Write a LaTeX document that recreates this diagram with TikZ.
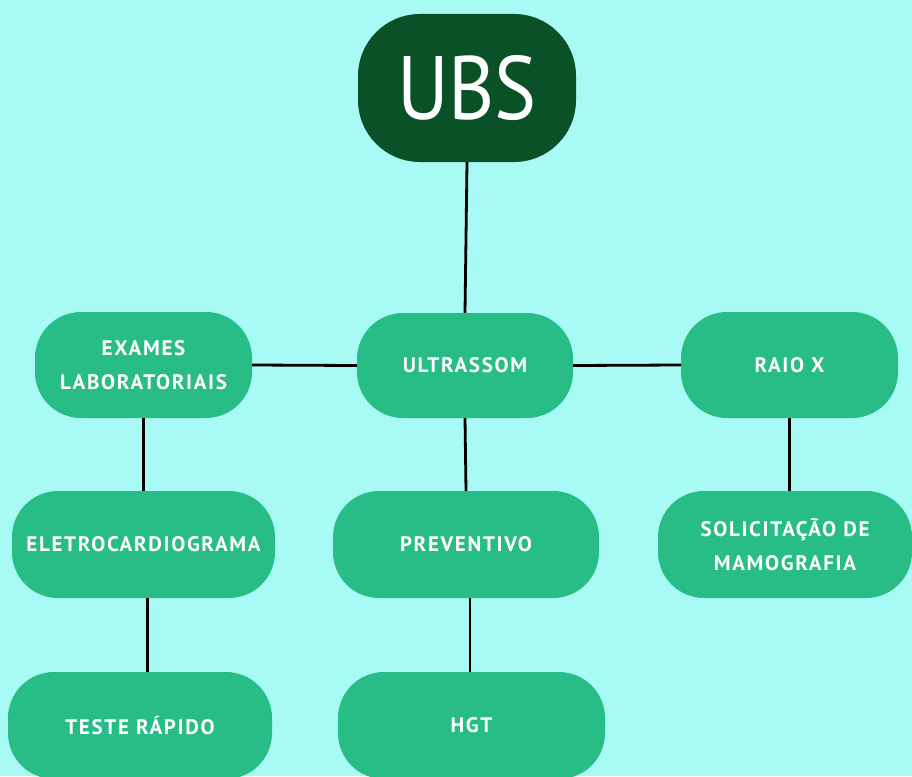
\documentclass[tikz,border=0pt]{standalone}
\usepackage{fontspec}
\setmainfont{PT Sans}
\definecolor{bgc}{HTML}{A8FBF4}
\definecolor{darkg}{HTML}{0B5128}
\definecolor{midg}{HTML}{28BD87}
\tikzset{
  box/.style={fill=midg, rounded corners=46pt, inner sep=0pt, align=center,
    text=white, font=\bfseries\fontsize{21}{34}\selectfont\addfontfeature{LetterSpace=8}},
  topbox/.style={fill=darkg, rounded corners=62pt, inner sep=0pt,
    minimum width=218pt, minimum height=148pt, text=white,
    font=\fontsize{90}{90}\selectfont},
  link/.style={draw=black, line width=2.8pt}
}
\begin{document}
\begin{tikzpicture}[x=1pt,y=-1pt]
\useasboundingbox (0,0) rectangle (912,776);
\clip (0,0) rectangle (912,776);
\fill[bgc] (0,0) rectangle (912,776);
\node[topbox] (ubs) at (467,88) {\scalebox{0.88}[1]{UBS}};
\node[box, minimum width=217pt, minimum height=106pt] (exames) at (143.5,365) {EXAMES\\LABORATORIAIS};
\node[box, minimum width=216pt, minimum height=105pt] (ultra) at (465,365.5) {ULTRASSOM};
\node[box, minimum width=217pt, minimum height=106pt] (raio) at (789.5,365) {RAIO X};
\node[box, minimum width=263pt, minimum height=107pt] (eletro) at (143.5,544.5) {ELETROCARDIOGRAMA};
\node[box, minimum width=266pt, minimum height=107pt] (prev) at (466,544.5) {PREVENTIVO};
\node[box, minimum width=254pt, minimum height=107pt] (solic) at (785,544.5) {SOLICITAÇÃO DE\\MAMOGRAFIA};
\node[box, minimum width=264pt, minimum height=107pt] (teste) at (140,725.5) {TESTE RÁPIDO};
\node[box, minimum width=267pt, minimum height=107pt] (hgt) at (471.5,725.5) {HGT};
\draw[link] (ubs.south) -- (ultra.north);
\draw[link] (exames.east) -- (ultra.west);
\draw[link] (ultra.east) -- (raio.west);
\draw[link] (exames.south) -- (eletro.north);
\draw[link] ([xshift=4pt]eletro.south) -- ([xshift=4pt]eletro.south |- teste.north);
\draw[link] (ultra.south) -- (prev.north);
\draw[link] ([xshift=4pt]prev.south) -- ([xshift=4pt]prev.south |- hgt.north);
\draw[link] (raio.south) -- (raio.south |- solic.north);
\end{tikzpicture}
\end{document}
